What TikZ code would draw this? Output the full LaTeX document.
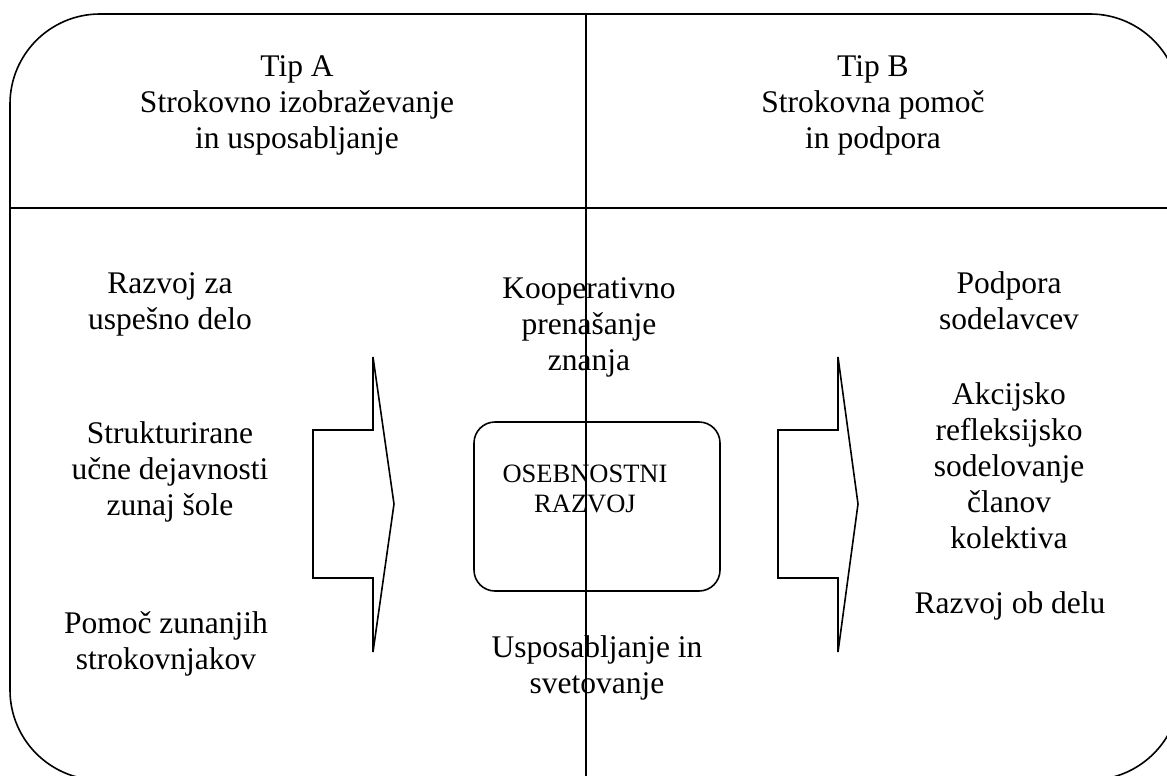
\documentclass[tikz,border=0pt]{standalone}
\usepackage{fontspec}
\setmainfont{Liberation Serif}
\begin{document}
\begin{tikzpicture}[x=1pt,y=-1pt,
  frame/.style={line width=1.6pt, line join=miter},
  blockarrow/.style={line width=1.6pt, line join=miter},
  % text blocks are placed by the baseline of their last line
  label/.style={align=center, inner sep=0pt, anchor=base, font=\fontsize{31.5}{36}\selectfont},
  small/.style={align=center, inner sep=0pt, anchor=base, font=\fontsize{26.5}{30}\selectfont}]
\useasboundingbox (0,0) rectangle (1167,776);
\clip (0,0) rectangle (1167,776);

% outer frame with header row and centre divider
\draw[frame, rounded corners=90pt] (10,14) rectangle (1180,780);
\draw[frame] (10,208) -- (1180,208);
\draw[frame] (586,14) -- (586,790);

% header texts
\node[label] (tipa) at (297,148) {Tip A\\Strokovno izobraževanje\\in usposabljanje};
\node[label] (tipb) at (873,148) {Tip B\\Strokovna pomoč\\in podpora};

% left column
\node[label] (a1) at (170,329) {Razvoj za\\uspešno delo};
\node[label] (a2) at (170,515) {Strukturirane\\učne dejavnosti\\zunaj šole};
\node[label] (a3) at (166,669) {Pomoč zunanjih\\strokovnjakov};

% block arrows
\draw[blockarrow] (313,430) -- (373,430) -- (373,357) -- (394,504) -- (373,652) -- (373,578) -- (313,578) -- cycle;
\draw[blockarrow] (778,430) -- (838,430) -- (838,357) -- (858,504) -- (838,652) -- (838,578) -- (778,578) -- cycle;

% centre column
\node[label] (c1) at (589,370) {Kooperativno\\prenašanje\\znanja};
\node[draw, line width=1.6pt, rounded corners=21pt, minimum width=246pt, minimum height=169pt, inner sep=0pt] (core) at (597,506.5) {};
\node[small] (coretext) at (585,512) {OSEBNOSTNI\\RAZVOJ};
\node[label] (c2) at (597,693) {Usposabljanje in\\svetovanje};

% right column
\node[label] (b1) at (1009,329) {Podpora\\sodelavcev};
\node[label] (b2) at (1009,548) {Akcijsko\\refleksijsko\\sodelovanje\\članov\\kolektiva};
\node[label] (b3) at (1010,613) {Razvoj ob delu};
\end{tikzpicture}
\end{document}
